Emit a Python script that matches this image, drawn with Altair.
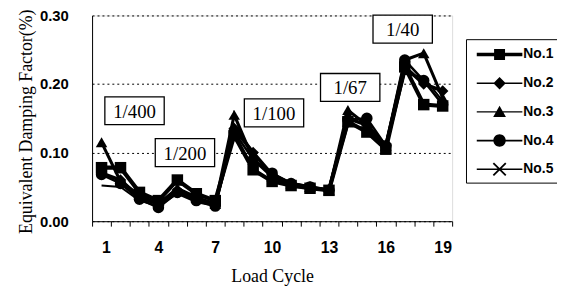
import altair as alt
import pandas as pd

cycles = list(range(1, 20))
series_names = ["No.1", "No.2", "No.3", "No.4", "No.5"]
no1 = [0.078, 0.078, 0.042, 0.030, 0.060, 0.040, 0.030, 0.125, 0.075, 0.058, 0.052, 0.048, 0.045, 0.145, 0.130, 0.105, 0.225, 0.170, 0.168]
no2 = [0.070, 0.060, 0.035, 0.025, 0.045, 0.032, 0.025, 0.135, 0.100, 0.068, 0.055, 0.050, 0.045, 0.150, 0.140, 0.110, 0.225, 0.200, 0.190]
no3 = [0.115, 0.058, 0.038, 0.025, 0.048, 0.035, 0.025, 0.155, 0.090, 0.065, 0.055, 0.050, 0.045, 0.162, 0.140, 0.110, 0.235, 0.245, 0.180]
no4 = [0.068, 0.055, 0.032, 0.020, 0.042, 0.030, 0.022, 0.130, 0.090, 0.070, 0.055, 0.050, 0.045, 0.148, 0.150, 0.110, 0.235, 0.205, 0.170]
no5 = [0.052, 0.050, 0.030, 0.022, 0.040, 0.028, 0.022, 0.140, 0.100, 0.065, 0.050, 0.048, 0.045, 0.140, 0.135, 0.105, 0.215, 0.210, 0.175]

ann_text = ["1/400", "1/200", "1/100", "1/67", "1/40"]
ann_x = [2.74, 5.4, 10.1, 14.12, 16.89]
ann_y = [0.161, 0.100, 0.158, 0.195, 0.280]

y_ticks = [0.0, 0.1, 0.2, 0.3]
x_bounds = [i + 0.5 for i in range(0, 20)]

line_widths = [4.2, 2.0, 1.6, 2.0, 2.0]
marker_shapes = ["square", "diamond", "triangle-up", "circle", "M-0.8,-0.8L0.8,0.8M-0.8,0.8L0.8,-0.8"]
legend_shapes = [
    "M-0.5,-0.2H4.5V0.2H-0.5Z M1.4,-0.6H2.6V0.6H1.4Z",
    "M-0.5,-0.09H4.5V0.09H-0.5Z M2.0,-0.68L2.68,0L2.0,0.68L1.32,0Z",
    "M-0.5,-0.07H4.5V0.07H-0.5Z M2.0,-0.68L2.7,0.55H1.3Z",
    "M-0.5,-0.09H4.5V0.09H-0.5Z M1.32,0A0.68,0.68 0 1,1 2.68,0A0.68,0.68 0 1,1 1.32,0Z",
    "M-0.5,-0.09H4.5V0.09H-0.5Z M1.39,-0.75L2.75,0.61L2.61,0.75L1.25,-0.61Z M1.39,0.75L1.25,0.61L2.61,-0.75L2.75,-0.61Z",
]

rows = []
for name, vals in zip(series_names, [no1, no2, no3, no4, no5]):
    for c, v in zip(cycles, vals):
        rows.append({"cycle": c, "value": v, "series": name})
df = pd.DataFrame(rows)
ann = pd.DataFrame({"label": ann_text, "x": ann_x, "y": ann_y})

W, H = 364, 208

x_scale = alt.Scale(domain=[0.5, 19.5], nice=False, zero=False)
y_scale = alt.Scale(domain=[0, 0.3], nice=False)

x_axis = alt.Axis(
    values=x_bounds,
    labelExpr="datum.value < 19 && (datum.value - 0.5) % 3 == 0 ? format(datum.value + 0.5, 'd') : ''",
    labelOffset=W / 19 / 2, labelOverlap=False,
    grid=False, ticks=True, tickSize=5, tickColor="black", tickWidth=1, domainColor="black",
    labelFont="Liberation Sans", labelFontWeight="bold", labelFontSize=16,
    labelColor="black", labelPadding=14,
    title="Load Cycle", titleFont="Liberation Serif", titleFontSize=18,
    titleFontWeight="normal", titleColor="black", titleY=47,
)
y_axis = alt.Axis(
    values=y_ticks, format=".2f", grid=True, gridColor="black", gridDash=[2, 3],
    gridWidth=1, ticks=False, domainColor="black",
    labelFont="Liberation Sans", labelFontWeight="bold", labelFontSize=15,
    labelColor="black", labelPadding=24,
    title="Equivalent Damping Factor(%)", titleFont="Liberation Serif",
    titleFontSize=18, titleFontWeight="normal", titleColor="black",
    titleX=-57, titleY=107,
)

X = alt.X("cycle:Q", scale=x_scale, axis=x_axis)
Y = alt.Y("value:Q", scale=y_scale, axis=y_axis)

base = alt.Chart(df)

lines = base.mark_line(color="black").encode(
    x=X, y=Y,
    detail="series:N",
    strokeWidth=alt.StrokeWidth("series:N", scale=alt.Scale(domain=series_names, range=line_widths), legend=None),
)

points = base.mark_point(filled=True, color="black", size=135, strokeWidth=1.6, opacity=1).encode(
    x=X, y=Y,
    shape=alt.Shape("series:N", scale=alt.Scale(domain=series_names, range=marker_shapes), legend=None),
)

legend_layer = base.mark_point(filled=True, color="black", size=0).encode(
    x=X, y=Y,
    shape=alt.Shape(
        "series:N",
        scale=alt.Scale(domain=series_names, range=legend_shapes),
        legend=alt.Legend(
            title=None, orient="none", legendX=378, legendY=24,
            symbolSize=340, symbolFillColor="black", symbolStrokeColor="black",
            symbolStrokeWidth=0, symbolOpacity=1,
            labelFont="'Liberation Sans Narrow', 'Liberation Sans'", labelFontWeight="bold", labelFontSize=14,
            labelColor="black", labelOffset=33,
            rowPadding=12, padding=6, strokeColor="black", fillColor="white",
        ),
    ),
)

AX = alt.X("x:Q", scale=x_scale, axis=x_axis)
AY = alt.Y("y:Q", scale=y_scale, axis=y_axis)

boxes = alt.Chart(ann).mark_point(
    shape="M-1,-0.47H1V0.47H-1Z", size=3600, filled=True, fill="white",
    stroke="black", strokeWidth=1.3, opacity=1,
).encode(x=AX, y=AY)

texts = alt.Chart(ann).mark_text(
    font="Liberation Serif", fontSize=19, color="black", baseline="middle", align="center", dy=1,
).encode(x=AX, y=AY, text="label:N")

chart = (
    alt.layer(lines, points, legend_layer, boxes, texts)
    .resolve_scale(shape="independent")
    .properties(
        width=W, height=H,
        autosize=alt.AutoSizeParams(type="none"),
        padding={"left": 85, "top": 6, "right": 106, "bottom": 65},
    )
    .configure_view(stroke="black", strokeWidth=1)
    .configure_legend(strokeColor="black", fillColor="white")
    .configure(background="white")
)

chart.save("out.html", embed_options={"renderer": "svg", "actions": False})
